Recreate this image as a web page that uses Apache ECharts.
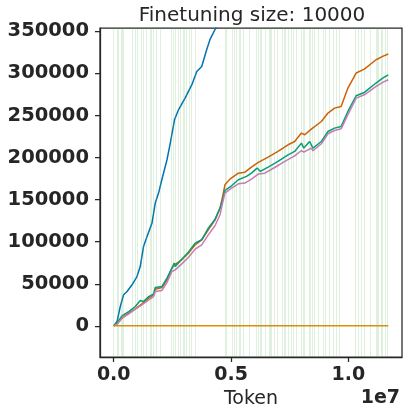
<!DOCTYPE html>
<html>
<head>
<meta charset="utf-8">
<script src="https://cdn.jsdelivr.net/npm/echarts@6/dist/echarts.min.js"></script>
<style>html,body{margin:0;padding:0;background:#fff;}#c{width:409px;height:414px;}</style>
</head>
<body>
<div id="c"></div>
<script>
const titleText = "Finetuning size: 10000";
const xName = "Token";
const xTicks = [0, 5e6, 1e7];
const yTicks = [0, 50000, 100000, 150000, 200000, 250000, 300000, 350000];

// [token, value] pairs
const blue = [[0,0],[0.14e6,5100],[0.28e6,23000],[0.42e6,36900],[0.57e6,40800],[0.78e6,48800],[0.99e6,58600],[1.13e6,70500],[1.27e6,94300],[1.42e6,106200],[1.63e6,122100],[1.77e6,145900],[1.91e6,157800],[2.05e6,173600],[2.27e6,197400],[2.41e6,217200],[2.59e6,244900],[2.76e6,256800],[3.04e6,270700],[3.33e6,286600],[3.54e6,302400],[3.75e6,308300],[3.96e6,328200],[4.10e6,340100],[4.35e6,354000],[4.55e6,372000]];
const orange = [[0,0],[11.7e6,0]];
const green = [[0,0],[0.14e6,3600],[0.35e6,11900],[0.64e6,17000],[0.92e6,23000],[1.13e6,30100],[1.27e6,28900],[1.49e6,34800],[1.70e6,38000],[1.77e6,45600],[2.05e6,46700],[2.27e6,56700],[2.48e6,68600],[2.58e6,74500],[2.62e6,70500],[2.90e6,79300],[3.18e6,87600],[3.47e6,98300],[3.75e6,102300],[4.03e6,116100],[4.32e6,126800],[4.53e6,140000],[4.64e6,149800],[4.74e6,160900],[5.02e6,166500],[5.31e6,173600],[5.66e6,177600],[5.87e6,181500],[6.11e6,187500],[6.25e6,183500],[6.58e6,188700],[7.00e6,195400],[7.43e6,203300],[7.71e6,207300],[8.00e6,217200],[8.10e6,211300],[8.35e6,219100],[8.49e6,211300],[8.85e6,219100],[9.13e6,231000],[9.41e6,235000],[9.69e6,237000],[9.98e6,254800],[10.33e6,273500],[10.68e6,277400],[11.18e6,288600],[11.46e6,294500],[11.70e6,298400]];
const red = [[0,0],[0.14e6,2400],[0.35e6,9100],[0.64e6,15100],[0.92e6,20200],[1.20e6,26200],[1.49e6,32900],[1.70e6,36900],[1.77e6,43600],[2.05e6,45600],[2.27e6,54700],[2.48e6,68600],[2.58e6,72500],[2.90e6,78500],[3.18e6,86400],[3.47e6,96300],[3.75e6,102300],[4.03e6,114100],[4.32e6,126000],[4.53e6,139900],[4.64e6,153700],[4.74e6,167600],[4.95e6,174400],[5.31e6,181500],[5.59e6,182700],[5.87e6,188700],[6.16e6,194200],[6.58e6,200600],[7.00e6,207300],[7.43e6,215200],[7.71e6,219100],[8.00e6,229100],[8.14e6,227100],[8.42e6,233800],[8.85e6,242900],[9.13e6,252900],[9.41e6,258800],[9.69e6,260800],[9.98e6,282600],[10.33e6,300500],[10.68e6,305200],[11.18e6,316300],[11.46e6,320300],[11.70e6,323100]];
const pink = [[0,0],[0.14e6,2000],[0.35e6,9100],[0.64e6,14300],[0.92e6,19800],[1.20e6,25000],[1.49e6,30900],[1.70e6,34800],[1.77e6,40800],[2.05e6,42000],[2.27e6,51500],[2.48e6,64600],[2.62e6,66600],[2.90e6,73700],[3.18e6,81200],[3.47e6,91200],[3.75e6,96300],[4.03e6,108200],[4.32e6,119300],[4.53e6,132000],[4.67e6,149800],[4.74e6,157800],[5.02e6,163700],[5.31e6,168800],[5.59e6,169700],[5.87e6,174400],[6.16e6,180400],[6.44e6,181500],[6.86e6,188200],[7.29e6,195400],[7.71e6,202100],[8.00e6,208400],[8.10e6,206500],[8.42e6,211300],[8.49e6,208100],[8.85e6,216400],[9.13e6,228300],[9.41e6,232200],[9.69e6,234200],[9.98e6,250900],[10.33e6,270700],[10.68e6,274600],[11.18e6,284500],[11.46e6,289300],[11.70e6,292500]];

// token positions of the light green vertical markers
const vlines = [0.00,0.14,0.21,0.34,0.38,0.42,0.81,0.92,0.99,1.16,1.25,1.39,1.56,1.61,1.67,1.81,1.98,2.44,2.55,2.62,2.76,2.83,2.95,3.01,3.08,3.23,3.30,3.47,4.74,4.81,5.05,5.14,5.24,5.35,5.41,5.52,5.76,6.06,6.15,6.23,6.30,6.44,6.62,6.67,6.72,6.82,6.98,7.17,7.25,7.33,7.43,7.57,7.67,7.78,8.00,8.06,8.14,8.32,8.39,8.46,8.56,8.70,8.91,9.03,9.20,9.34,9.48,9.62,10.30,10.40,10.54,10.68,10.94,11.18,11.24,11.29,11.39,11.46,11.57,11.67].map(v => v * 1e6);

const FONT = "DejaVu Sans";
const TXT = "#262626";

function lineSeries(data, color) {
  return { type: 'line', data: data, showSymbol: false, symbol: 'none', z: 3,
    lineStyle: { color: color, width: 1.5 }, itemStyle: { color: color }, animation: false, clip: true };
}

const chart = echarts.init(document.getElementById('c'), null, { renderer: 'canvas' });
chart.setOption({
  animation: false,
  backgroundColor: '#fff',
  title: { text: titleText, left: 247, top: 1, textAlign: 'center',
    textStyle: { fontFamily: FONT, fontSize: 20, fontWeight: 'normal', color: TXT } },
  grid: { left: 100, right: 7, top: 28, bottom: 57, show: true, borderColor: TXT, borderWidth: 1.25, backgroundColor: 'transparent' },
  xAxis: {
    type: 'value', min: -585000, max: 12285000,
    name: xName, nameLocation: 'middle', nameGap: 28,
    nameTextStyle: { fontFamily: FONT, fontSize: 19, color: TXT },
    axisLine: { show: true, onZero: false, lineStyle: { color: TXT, width: 1.25 } },
    axisTick: { show: true, length: 5, lineStyle: { color: TXT, width: 1.25 }, customValues: xTicks },
    axisLabel: { customValues: xTicks, margin: 9, fontFamily: FONT, fontSize: 19, fontWeight: 'bold', color: TXT,
      formatter: v => (v / 1e7).toFixed(1) },
    splitLine: { show: false }
  },
  yAxis: {
    type: 'value', min: -37000, max: 354000,
    axisLine: { show: true, onZero: false, lineStyle: { color: TXT, width: 1.25 } },
    axisTick: { show: true, length: 5, lineStyle: { color: TXT, width: 1.25 }, customValues: yTicks },
    axisLabel: { customValues: yTicks, margin: 11, fontFamily: FONT, fontSize: 19.5, fontWeight: 'bold', color: TXT,
      formatter: v => String(Math.round(v)) },
    splitLine: { show: false }
  },
  graphic: [{ type: 'text', right: 9, top: 389, style: { text: '1e7', fontFamily: FONT, fontSize: 19, fontWeight: 'bold', fill: TXT } }],
  series: [
    { type: 'line', data: [], z: 1, silent: true,
      markLine: { silent: true, symbol: 'none', animation: false, label: { show: false },
        lineStyle: { type: 'solid', width: 1, color: 'rgba(80,170,80,0.18)' },
        data: vlines.map(v => ({ xAxis: v })) } },
    lineSeries(blue, '#0173B2'),
    lineSeries(red, '#D55E00'),
    lineSeries(green, '#029E73'),
    lineSeries(pink, '#CC78BC'),
    lineSeries(orange, '#DE8F05')
  ]
});
</script>
</body>
</html>
